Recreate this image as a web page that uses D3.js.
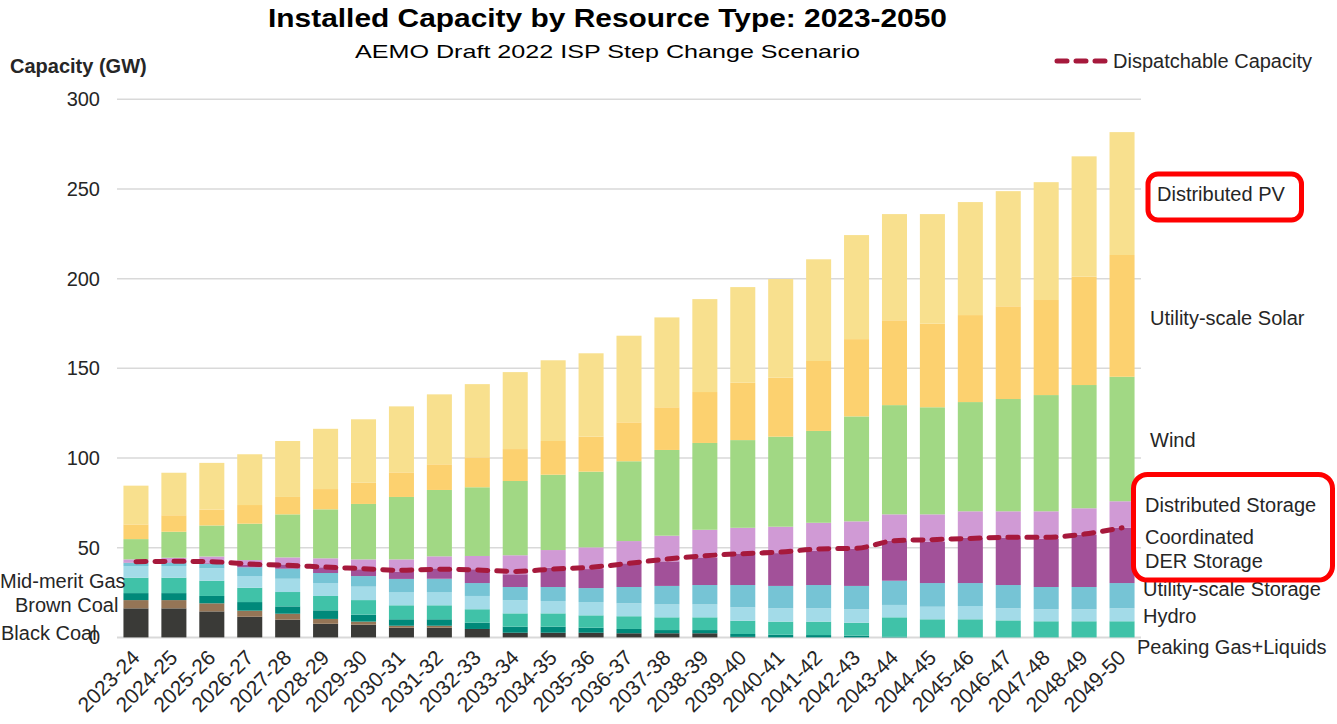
<!DOCTYPE html>
<html lang="en">
<head>
<meta charset="UTF-8">
<title>Installed Capacity by Resource Type: 2023-2050</title>
<script src="https://d3js.org/d3.v7.min.js"></script>
<style>
  body { margin: 0; background: #fff; }
  svg text { font-family: "Liberation Sans", Arial, sans-serif; fill: #262626; }
</style>
</head>
<body>
<svg id="chart" width="1337" height="724"></svg>
<script>
// financial years on the x axis
const years = ['2023-24','2024-25','2025-26','2026-27','2027-28','2028-29','2029-30','2030-31','2031-32',
  '2032-33','2033-34','2034-35','2035-36','2036-37','2037-38','2038-39','2039-40','2040-41','2041-42',
  '2042-43','2043-44','2044-45','2045-46','2046-47','2047-48','2048-49','2049-50'];

// capacity in GW per resource
const blackCoal   = [16.2,16.2,14.5,11.5,9.9,7.6,7.1,5.4,5.4,4.7,2.6,2.6,2.6,2.3,2.3,2.3,0.3,0,0,0,0,0,0,0,0,0,0];
const brownCoal   = [4.6,4.6,4.5,3.4,3.3,2.7,1.7,1.1,1.1,0,0,0,0,0,0,0,0,0,0,0,0,0,0,0,0,0,0];
const midMeritGas = [3.9,3.9,4.1,4.8,4.1,4.8,3.9,3.6,3.6,3.5,3.4,3.4,2.8,2.4,1.8,1.8,1.6,1.5,1.3,1.0,0.3,0.2,0,0,0,0,0];
const peakingGas  = [8.6,8.6,8.5,8.0,8.0,8.0,8.1,7.8,7.8,7.5,7.4,7.4,6.9,7.1,7.1,7.1,7.4,7.3,7.5,7.2,10.9,9.9,10.1,9.5,9.0,9.0,9.0];
const hydro       = [6.5,6.5,6.9,6.5,7.4,7.2,7.5,7.4,7.4,7.4,7.4,6.9,7.4,7.2,7.2,7.2,7.5,7.4,7.4,7.5,6.9,7.0,7.4,6.7,6.7,6.7,7.2];
const utilStorage = [1.8,1.8,2.5,4.9,5.6,5.6,5.9,7.3,7.4,7.2,7.3,7.8,7.8,9.1,10.3,10.8,12.4,12.5,13.0,13.0,13.5,13.2,12.8,13.0,12.4,12.4,14.1];
const coordDER    = [0.2,0.3,0.4,1.3,2.4,3.2,3.8,3.9,5.8,7.7,7.1,10.8,10.6,13.2,13.7,15.4,17.3,18.3,19.0,20.7,22.3,23.0,25.3,26.4,26.9,29.1,30.8];
const distStorage = [1.7,2.5,3.7,2.7,3.9,5.0,5.5,7.0,6.7,7.4,10.6,9.8,12.1,12.4,14.3,15.4,14.6,14.7,15.7,15.3,14.7,15.3,14.7,14.7,15.3,14.8,14.8];
const wind        = [11.3,14.5,17.3,20.3,24.0,27.3,30.9,34.8,37.0,38.3,41.4,42.0,42.2,44.5,47.8,48.4,48.9,50.2,51.2,58.5,60.9,59.7,60.9,62.6,64.8,68.7,69.4];
const utilSolar   = [8.2,9.2,8.9,10.4,9.7,11.3,11.8,13.7,14.3,16.7,17.8,18.8,19.5,21.7,23.8,28.4,32.0,32.9,39.0,43.1,47.3,46.6,48.5,51.7,53.0,60.4,67.9];
const distPV      = [21.6,23.7,26.0,28.3,31.2,33.6,35.4,36.8,39.0,40.8,42.9,45.0,46.5,48.3,50.1,51.8,53.3,55.0,56.7,58.0,59.2,61.1,63.0,64.2,65.7,67.1,68.5];
const dispatchable = [42.2,42.4,42.2,40.9,40.2,39.2,38.3,37.4,38.0,37.6,36.8,38.1,39.1,41.3,43.7,45.5,46.7,47.6,49.3,49.7,53.9,54.5,55.2,55.8,55.8,57.6,61.1];

// bottom to top
const seriesNames = ['Black Coal','Brown Coal','Mid-merit Gas','Peaking Gas+Liquids','Hydro','Utility-scale Storage',
  'Coordinated DER Storage','Distributed Storage','Wind','Utility-scale Solar','Distributed PV'];
const seriesValues = [blackCoal, brownCoal, midMeritGas, peakingGas, hydro, utilStorage, coordDER, distStorage, wind, utilSolar, distPV];
const seriesColors = ['#3a3a37','#957556','#00897a','#40c2a8','#a3dbe8','#76c4d5','#a25199','#d09ad5','#a1d884','#fcd16f','#f8e08e'];
const yTicks = [0, 50, 100, 150, 200, 250, 300];

const svg = d3.select('#chart');

const x = d3.scaleBand().domain(years).range([117, 1141]).paddingInner(0.34).paddingOuter(0.17);
const y = d3.scaleLinear().domain([0, 300]).range([637.4, 99.3]);

// table for d3.stack
const table = years.map((yr, i) => {
  const row = { year: yr };
  seriesNames.forEach((n, k) => { row[n] = seriesValues[k][i]; });
  return row;
});
const stacked = d3.stack().keys(seriesNames)(table);
const color = d3.scaleOrdinal().domain(seriesNames).range(seriesColors);

// gridlines
svg.append('g').selectAll('line')
  .data(yTicks).enter().append('line')
  .attr('x1', 117).attr('x2', 1141)
  .attr('y1', d => y(d)).attr('y2', d => y(d))
  .attr('stroke', '#d9d9d9')
  .attr('stroke-width', d => d === 0 ? 2 : 1.5);

svg.append('g').selectAll('text')
  .data(yTicks).enter().append('text')
  .attr('x', 100).attr('y', d => y(d)).attr('dy', '0.35em')
  .attr('text-anchor', 'end')
  .attr('font-size', 20)
  .text(d => d);

// bars
svg.append('g').selectAll('g')
  .data(stacked).enter().append('g')
  .attr('fill', d => color(d.key))
  .selectAll('rect')
  .data(d => d).enter().append('rect')
  .attr('x', d => x(d.data.year))
  .attr('width', x.bandwidth())
  .attr('y', d => y(d[1]))
  .attr('height', d => y(d[0]) - y(d[1]));

// dispatchable capacity line
const line = d3.line()
  .x((d, i) => x(years[i]) + x.bandwidth() / 2)
  .y(d => y(d))
  .curve(d3.curveMonotoneX);

svg.append('path')
  .datum(dispatchable)
  .attr('d', line)
  .attr('fill', 'none')
  .attr('stroke', '#a6193c')
  .attr('stroke-width', 5)
  .attr('stroke-linecap', 'round')
  .attr('stroke-dasharray', '10,9');

// x labels
svg.append('g').selectAll('text')
  .data(years).enter().append('text')
  .attr('transform', d => `translate(${x(d) + x.bandwidth() / 2 + 5},659) rotate(-45)`)
  .attr('text-anchor', 'end')
  .attr('font-size', 21)
  .text(d => d);

// titles
svg.append('text')
  .attr('x', 607.5).attr('y', 27)
  .attr('text-anchor', 'middle')
  .attr('font-family', 'DejaVu Sans')
  .attr('font-weight', 'bold')
  .attr('font-size', 25)
  .attr('textLength', 679).attr('lengthAdjust', 'spacingAndGlyphs')
  .style('fill', '#000')
  .text('Installed Capacity by Resource Type: 2023-2050');

svg.append('text')
  .attr('x', 607.5).attr('y', 58)
  .attr('text-anchor', 'middle')
  .attr('font-family', 'DejaVu Sans')
  .attr('font-size', 19)
  .attr('textLength', 505).attr('lengthAdjust', 'spacingAndGlyphs')
  .style('fill', '#000')
  .text('AEMO Draft 2022 ISP Step Change Scenario');

svg.append('text')
  .attr('x', 10).attr('y', 73)
  .attr('font-weight', 'bold')
  .attr('font-size', 20)
  .text('Capacity (GW)');

// legend
svg.append('line')
  .attr('x1', 1057).attr('x2', 1107).attr('y1', 61).attr('y2', 61)
  .attr('stroke', '#a6193c').attr('stroke-width', 5)
  .attr('stroke-linecap', 'round').attr('stroke-dasharray', '10,9');
svg.append('text')
  .attr('x', 1113).attr('y', 61).attr('dy', '0.35em')
  .attr('font-size', 20)
  .text('Dispatchable Capacity');

// series labels beside the bars
const labelLayout = [
  ['Distributed PV', 1157, 194], ['Utility-scale Solar', 1150, 318], ['Wind', 1150, 440],
  ['Distributed Storage', 1145, 505], ['Coordinated', 1145, 537], ['DER Storage', 1145, 561],
  ['Utility-scale Storage', 1143, 589], ['Hydro', 1143, 616], ['Peaking Gas+Liquids', 1137, 647],
  ['Mid-merit Gas', 0, 581], ['Brown Coal', 15, 605], ['Black Coal', 1, 633]
];
svg.append('g').selectAll('text')
  .data(labelLayout).enter().append('text')
  .attr('x', d => d[1]).attr('y', d => d[2]).attr('dy', '0.35em')
  .attr('font-size', 20)
  .text(d => d[0]);

// red highlight boxes
svg.append('rect')
  .attr('x', 1148).attr('y', 174).attr('width', 153.5).attr('height', 46).attr('rx', 10)
  .attr('fill', 'none').attr('stroke', '#ff0000').attr('stroke-width', 5);
svg.append('rect')
  .attr('x', 1133.5).attr('y', 474.5).attr('width', 199).attr('height', 105.5).attr('rx', 14)
  .attr('fill', 'none').attr('stroke', '#ff0000').attr('stroke-width', 5);
</script>
</body>
</html>
